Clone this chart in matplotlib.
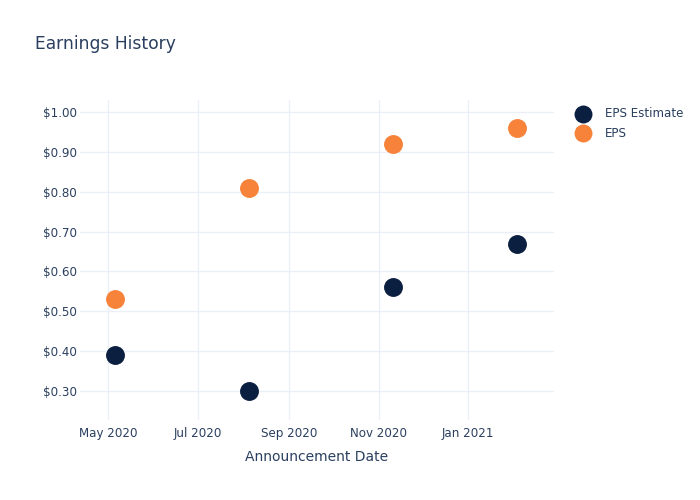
import numpy as np
import matplotlib.pyplot as plt
import matplotlib.dates as mdates
from matplotlib.ticker import FuncFormatter

dates = np.array(['2020-05-06', '2020-08-05', '2020-11-11', '2021-02-03'], dtype='datetime64[D]')
eps_estimate = [0.39, 0.30, 0.56, 0.67]
eps_actual = [0.53, 0.81, 0.92, 0.96]
xtick_dates = np.array(['2020-05-01', '2020-07-01', '2020-09-01', '2020-11-01', '2021-01-01'], dtype='datetime64[D]')
yticks = [0.30, 0.40, 0.50, 0.60, 0.70, 0.80, 0.90, 1.00]

navy = '#0b1f41'
orange = '#f7833a'
txt = '#2a3f5f'
grid = '#ebf0f8'

fig = plt.figure(figsize=(7, 5), dpi=100)
ax = fig.add_axes([80/700, 80/500, 473.5/700, 320/500])

ax.scatter(dates, eps_estimate, s=185, color=navy, label='EPS Estimate', zorder=3, linewidths=0)
ax.scatter(dates, eps_actual, s=185, color=orange, label='EPS', zorder=3, linewidths=0)

ax.set_xlim(np.datetime64('2020-04-12'), np.datetime64('2021-02-28'))
ax.set_ylim(0.2273, 1.0301)
ax.set_xticks(xtick_dates)
ax.xaxis.set_major_formatter(mdates.DateFormatter('%b %Y'))
ax.set_yticks(yticks)
ax.yaxis.set_major_formatter(FuncFormatter(lambda v, p: '$%.2f' % v))

for s in ax.spines.values():
    s.set_visible(False)
ax.grid(True, color=grid, linewidth=1)
ax.set_axisbelow(True)
ax.tick_params(length=0, labelsize=8.6, colors=txt)
ax.tick_params(axis='y', pad=2)
ax.tick_params(axis='x', pad=5)

ax.set_xlabel('Announcement Date', fontsize=10, color=txt, labelpad=7)
fig.text(35/700, 1 - 44/500, 'Earnings History', fontsize=12.3, color=txt, va='center', ha='left')

ax.legend(loc='upper left', bbox_to_anchor=(565/700, 1 - 101/500), bbox_transform=fig.transFigure,
          frameon=False, fontsize=8.6, labelcolor=txt, handletextpad=0.85, labelspacing=0.55,
          borderpad=0, markerscale=0.95)

fig.savefig('out.png', dpi=100)
